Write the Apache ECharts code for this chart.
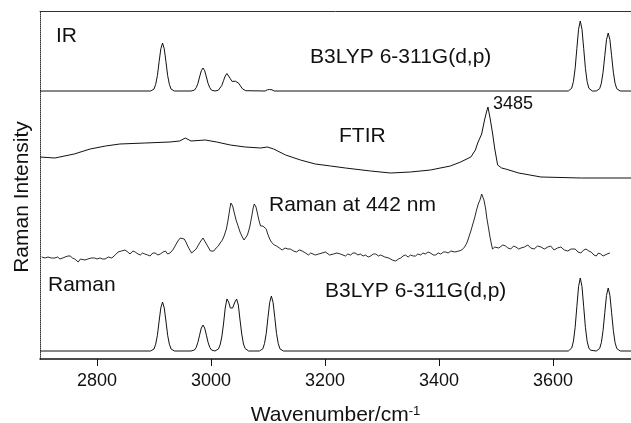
<!DOCTYPE html>
<html lang="en">
<head>
    <meta charset="UTF-8">
    <title>Raman / IR spectra</title>
    <script src="https://cdn.jsdelivr.net/npm/echarts@6.0.0/dist/echarts.min.js"></script>
    <style>
        html, body { margin: 0; padding: 0; background: #fff; }
    </style>
</head>
<body>

    <div id="main" style="width:631px; height:423px;"></div>

    <script>
        // wavenumber ticks
        var xTicks = [2800, 3000, 3200, 3400, 3600];

        // vertical offsets of the stacked traces (baseline of calc. spectra)
        var irOffset = 268;
        var ramanOffset = 8;

        // B3LYP IR spectrum, [wavenumber, intensity above baseline]
        var irCalc = [
            [2700,0],[2894,0],[2897,0.5],[2900,1.9],[2903,6.7],[2906,15.4],[2909,29.3],[2912,42.2],[2915,48],
            [2918,42.2],[2921,29.3],[2924,15.4],[2927,6.7],[2930,1.9],[2933,0.5],[2936,0],
            [2965,0],[2968,0.2],[2971,0.9],[2974,3.2],[2977,7.4],[2980,14],[2983,20.2],[2986,23],
            [2989,20.2],[2992,14],[2995,7.4],[2998,3.2],[3001,0.9],[3004,0.2],[3007,0],
            [3010,0.2],[3013,0.8],[3016,2.3],[3019,5.5],[3022,10.3],[3025,15],[3028,17.5],[3031,15.8],
            [3034,12.3],[3037,9.6],[3040,9.2],[3043,9.8],[3046,9.6],[3049,7.6],[3052,4.8],[3055,2.3],
            [3058,0.9],[3061,0.3],[3064,0],
            [3095,0],[3099,1.2],[3103,1.5],[3107,1.2],[3111,0],
            [3627,0],[3630,0.8],[3633,2.8],[3636,9.5],[3639,22.7],[3642,42.5],[3645,61.7],[3648,70],
            [3651,61.7],[3654,42.5],[3657,22.7],[3660,9.5],[3663,2.8],[3666,0.8],[3669,0],
            [3676,0],[3679,0.6],[3682,2.3],[3685,7.8],[3688,18.8],[3691,35.2],[3694,51.2],[3697,58],
            [3700,51.2],[3703,35.2],[3706,18.8],[3709,7.8],[3712,2.3],[3715,0.6],[3718,0],[3737,0]
        ];

        // FTIR spectrum, [wavenumber, intensity]
        var ftir = [
            [2700,202],[2726,201],[2760,205],[2788,210],[2815,213],[2840,215],[2884,216],[2928,217],
            [2945,218],[2955,221],[2965,218],[2990,219],[3010,217],[3034,214],[3060,212],[3087,211],
            [3099,212],[3110,210],[3131,204],[3157,199],[3183,195],[3210,193],[3236,191],[3280,188],
            [3315,186],[3350,187],[3385,189],[3420,193],[3438,197],[3456,202],[3464,209],[3468,216],
            [3475,225],[3480,239],[3483,246],[3486,252],[3490,240],[3494,226],[3498,210],[3503,194],
            [3510,191],[3517,190],[3540,186],[3579,182],[3650,181],[3737,181]
        ];

        // Raman at 442 nm, [wavenumber, intensity]
        var raman442 = [
            [2703,102],[2709,101],[2714,102],[2720,101],[2726,101],[2731,102],[2735,100],[2740,101],
            [2744,102],[2749,103],[2753,103],[2757,101],[2761,100],[2764,98],[2767,97],[2771,100],
            [2774,101],[2779,99],[2784,100],[2790,101],[2796,101],[2800,100],[2805,101],[2810,100],
            [2814,100],[2820,102],[2826,101],[2832,104],[2837,107],[2840,105],[2843,108],[2846,106],
            [2849,109],[2854,107],[2858,105],[2863,108],[2867,107],[2872,105],[2876,104],[2880,106],
            [2884,105],[2889,104],[2893,103],[2898,106],[2902,106],[2907,104],[2911,105],[2916,107],
            [2920,108],[2924,105],[2928,106],[2933,109],[2937,113],[2942,118],[2946,121],[2949,122],
            [2953,120],[2956,117],[2960,112],[2963,109],[2966,106],[2969,105],[2974,110],[2978,114],
            [2981,117],[2986,121],[2989,119],[2992,115],[2996,111],[2999,108],[3002,106],[3005,108],
            [3009,111],[3013,113],[3016,116],[3020,119],[3023,123],[3027,130],[3030,139],[3033,150],
            [3035,156],[3038,153],[3041,146],[3044,139],[3047,134],[3051,127],[3055,122],[3058,119],
            [3061,121],[3064,124],[3068,132],[3071,141],[3074,151],[3076,155],[3079,152],[3081,147],
            [3084,139],[3087,133],[3091,133],[3094,134],[3097,130],[3099,126],[3103,120],[3106,117],
            [3111,114],[3115,113],[3120,111],[3125,109],[3130,111],[3135,110],[3139,110],[3145,108],
            [3150,107],[3155,109],[3160,108],[3166,106],[3171,104],[3175,106],[3178,106],[3183,104],
            [3189,105],[3195,106],[3201,107],[3208,104],[3215,105],[3221,106],[3227,105],[3236,103],
            [3240,105],[3245,104],[3249,106],[3253,106],[3258,104],[3262,105],[3267,103],[3271,104],
            [3276,102],[3280,103],[3285,105],[3289,105],[3294,103],[3298,104],[3305,102],[3312,101],
            [3318,99],[3324,98],[3329,100],[3333,101],[3337,103],[3341,104],[3346,102],[3350,104],
            [3355,103],[3359,103],[3363,105],[3368,104],[3372,106],[3376,105],[3381,107],[3385,106],
            [3390,104],[3394,104],[3399,106],[3403,105],[3408,107],[3412,107],[3416,106],[3421,108],
            [3428,107],[3435,108],[3440,109],[3445,112],[3449,116],[3452,121],[3456,128],[3459,134],
            [3463,142],[3466,149],[3469,155],[3472,159],[3475,165],[3479,159],[3482,150],[3484,141],
            [3487,131],[3489,124],[3492,115],[3494,110],[3498,112],[3501,114],[3505,111],[3508,112],
            [3512,114],[3517,113],[3521,111],[3526,110],[3531,113],[3535,112],[3540,110],[3544,111],
            [3550,112],[3556,114],[3561,111],[3567,110],[3573,113],[3579,112],[3585,110],[3591,112],
            [3596,113],[3602,109],[3608,111],[3614,112],[3620,109],[3626,108],[3632,110],[3639,110],
            [3644,107],[3649,106],[3654,109],[3658,110],[3663,108],[3667,107],[3672,104],[3676,103],
            [3680,106],[3684,105],[3688,103],[3691,102],[3695,105],[3700,106]
        ];

        // B3LYP Raman spectrum, [wavenumber, intensity above baseline]
        var ramanCalc = [
            [2700,0],[2894,0],[2897,0.5],[2900,2],[2903,6.8],[2906,15.7],[2909,29.9],[2912,43.1],[2915,49],
            [2918,43.1],[2921,29.9],[2924,15.7],[2927,6.8],[2930,2],[2933,0.5],[2936,0],
            [2965,0],[2968,0.3],[2971,1],[2974,3.5],[2977,8.5],[2980,15.8],[2983,22.9],[2986,26],
            [2989,22.9],[2992,15.8],[2995,8.5],[2998,3.5],[3001,1],[3004,0.3],[3007,0],
            [3010,0.5],[3013,2],[3016,6],[3019,14],[3022,27],[3025,43],[3028,52],[3031,49],[3034,43],
            [3036,42],[3038,43],[3042,49],[3045,52],[3048,46],[3051,31],[3054,17],[3057,7],[3060,2.5],
            [3063,0.7],[3066,0],
            [3085,0],[3088,0.6],[3091,2.2],[3094,7.6],[3097,17.6],[3100,33.5],[3103,48.4],[3106,55],
            [3109,48.4],[3112,33.5],[3115,17.6],[3118,7.6],[3121,2.2],[3124,0.6],[3127,0],
            [3627,0],[3630,0.8],[3633,3],[3636,9.9],[3639,23.7],[3642,44.3],[3645,64.4],[3648,73],
            [3651,64.4],[3654,44.3],[3657,23.7],[3660,9.9],[3663,3],[3666,0.8],[3669,0],
            [3676,0],[3679,0.7],[3682,2.5],[3685,8.5],[3688,20.5],[3691,38.2],[3694,55.6],[3697,63],
            [3700,55.6],[3703,38.2],[3706,20.5],[3709,8.5],[3712,2.5],[3715,0.7],[3718,0],[3737,0]
        ];

        function shift(arr, off) {
            return arr.map(function (p) { return [p[0], p[1] + off]; });
        }

        var FONT = 'Liberation Sans, Arial, sans-serif';

        function label(txt, x, y, size, rot) {
            return {
                type: 'text', x: x, y: y, rotation: rot || 0, silent: true,
                style: {
                    text: txt, fill: '#111', verticalAlign: 'middle',
                    align: rot ? 'center' : 'left',
                    font: (size || 21) + 'px ' + FONT
                }
            };
        }

        function trace(data, w) {
            return {
                type: 'line', data: data, showSymbol: false, silent: true,
                lineStyle: { color: '#111', width: w || 1 }
            };
        }

        var charts = echarts.init(document.getElementById('main'));

        var options = {
            animation: false,
            backgroundColor: '#fff',
            textStyle: { fontFamily: FONT },
            grid: { left: 40, right: 0, top: 11, bottom: 64, outerBoundsMode: 'none', containLabel: false },
            xAxis: [{
                type: 'value', position: 'bottom',
                min: 2700, max: 3737,
                splitLine: { show: false },
                axisLine: { lineStyle: { color: '#111', width: 1.5 } },
                axisTick: { show: true, length: 7, inside: false, customValues: xTicks,
                    lineStyle: { color: '#111', width: 1 } },
                axisLabel: { customValues: xTicks, color: '#111', fontSize: 18, margin: 13,
                    formatter: function (v) { return String(v); } },
                name: '{a|Wavenumber/cm}{s|-1}',
                nameLocation: 'middle', nameGap: 46,
                nameTextStyle: {
                    rich: {
                        a: { fontSize: 21, color: '#111', fontFamily: FONT },
                        s: { fontSize: 13, color: '#111', fontFamily: FONT, verticalAlign: 'top' }
                    }
                }
            }, {
                type: 'value', position: 'top',
                min: 2700, max: 3737,
                splitLine: { show: false },
                axisLine: { lineStyle: { color: '#333', width: 1 } },
                axisTick: { show: false },
                axisLabel: { show: false }
            }],
            yAxis: {
                type: 'value', min: 0, max: 348,
                splitLine: { show: false },
                axisLine: { show: true, lineStyle: { color: '#333', width: 1, type: [1, 1] } },
                axisTick: { show: false },
                axisLabel: { show: false }
            },
            series: [
                trace(shift(irCalc, irOffset)),
                trace(ftir),
                trace(raman442, 0.9),
                trace(shift(ramanCalc, ramanOffset))
            ],
            graphic: [
                label('Raman Intensity', 22, 197, 21, Math.PI / 2),
                label('IR', 56, 36),
                label('B3LYP 6-311G(d,p)', 310, 57),
                label('FTIR', 339, 136),
                label('3485', 493, 104, 18),
                label('Raman at 442 nm', 269, 205),
                label('Raman', 48, 285),
                label('B3LYP 6-311G(d,p)', 325, 291)
            ]
        };

        charts.setOption(options);
    </script>
</body>
</html>
